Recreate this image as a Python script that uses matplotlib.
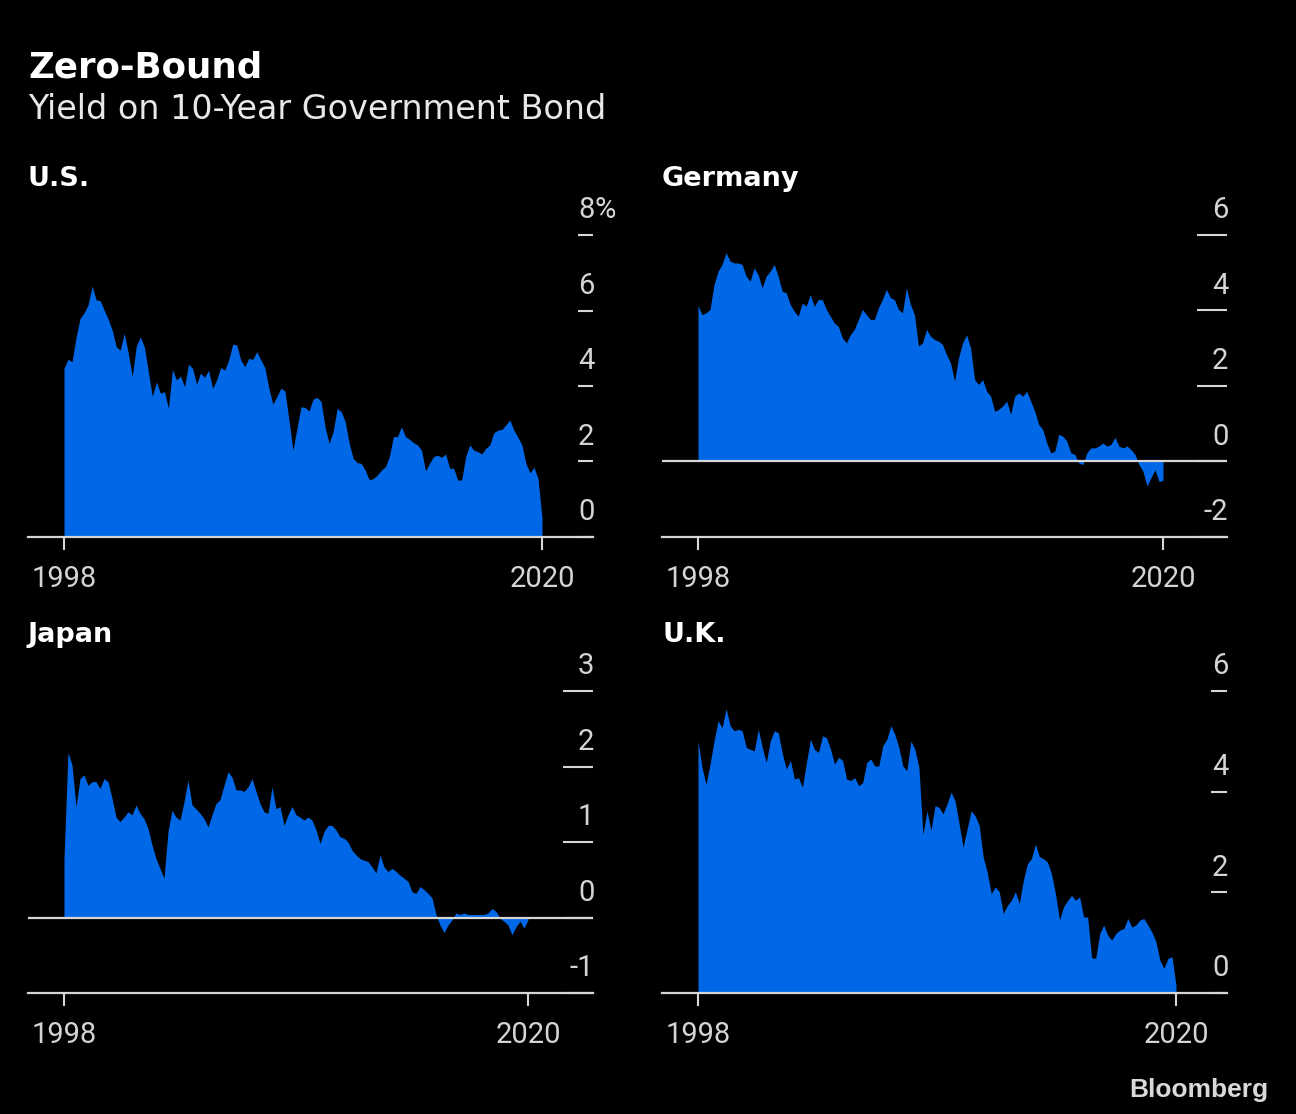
import numpy as np
import matplotlib
matplotlib.use('Agg')
import matplotlib.pyplot as plt

# yield on 10-year government bonds (%), evenly spaced 1998 -> 2020
us_yield = [4.47, 4.71, 4.64, 5.29, 5.79, 5.94, 6.15, 6.65, 6.28, 6.26,
            6.01, 5.77, 5.48, 5.04, 4.95, 5.40, 4.87, 4.25, 5.06, 5.30,
            5.04, 4.38, 3.72, 4.11, 3.81, 3.85, 3.41, 4.44, 4.16, 4.26,
            3.98, 4.58, 4.47, 4.05, 4.34, 4.23, 4.42, 3.94, 4.16, 4.49,
            4.42, 4.69, 5.11, 5.09, 4.69, 4.51, 4.73, 4.71, 4.91, 4.69,
            4.49, 3.94, 3.52, 3.72, 3.94, 3.87, 3.10, 2.30, 2.88, 3.45,
            3.43, 3.34, 3.65, 3.70, 3.59, 2.91, 2.48, 2.79, 3.41, 3.32,
            3.06, 2.48, 2.08, 1.97, 1.95, 1.77, 1.51, 1.55, 1.64, 1.77,
            1.86, 2.13, 2.66, 2.66, 2.92, 2.66, 2.59, 2.50, 2.44, 2.30,
            1.75, 1.95, 2.13, 2.17, 2.11, 2.20, 1.82, 1.82, 1.51, 1.51,
            2.13, 2.44, 2.30, 2.26, 2.20, 2.35, 2.44, 2.76, 2.83, 2.85,
            2.97, 3.10, 2.83, 2.64, 2.44, 1.95, 1.70, 1.85, 1.55, 0.50]

germany_yield = [4.13, 3.89, 3.94, 4.03, 4.69, 5.04, 5.22, 5.53, 5.31, 5.26,
                 5.26, 5.22, 4.91, 4.78, 5.13, 4.95, 4.60, 4.91, 5.04, 5.22,
                 4.91, 4.51, 4.47, 4.16, 3.98, 3.85, 4.20, 4.11, 4.42, 4.11,
                 4.29, 4.29, 4.03, 3.85, 3.67, 3.58, 3.28, 3.14, 3.36, 3.50,
                 3.76, 4.03, 3.89, 3.76, 3.76, 4.07, 4.29, 4.56, 4.34, 4.29,
                 4.03, 3.94, 4.60, 4.16, 3.89, 3.06, 3.14, 3.50, 3.32, 3.23,
                 3.19, 3.10, 2.83, 2.61, 2.13, 2.75, 3.14, 3.36, 3.01, 2.17,
                 2.04, 2.17, 1.86, 1.73, 1.33, 1.38, 1.47, 1.60, 1.25, 1.73,
                 1.82, 1.73, 1.86, 1.60, 1.33, 0.98, 0.85, 0.49, 0.23, 0.27,
                 0.72, 0.67, 0.54, 0.23, 0.19, -0.04, -0.08, 0.23, 0.36, 0.36,
                 0.41, 0.49, 0.41, 0.45, 0.64, 0.41, 0.36, 0.41, 0.32, 0.19,
                 -0.08, -0.26, -0.65, -0.43, -0.22, -0.53, -0.50]

japan_yield = [0.78, 2.19, 2.02, 1.47, 1.84, 1.89, 1.75, 1.80, 1.80, 1.71,
               1.84, 1.80, 1.58, 1.33, 1.27, 1.33, 1.40, 1.36, 1.49, 1.38,
               1.31, 1.18, 0.96, 0.78, 0.65, 0.52, 1.14, 1.42, 1.33, 1.29,
               1.53, 1.82, 1.49, 1.44, 1.38, 1.31, 1.20, 1.36, 1.51, 1.56,
               1.75, 1.93, 1.86, 1.69, 1.69, 1.67, 1.73, 1.84, 1.67, 1.51,
               1.40, 1.38, 1.73, 1.44, 1.47, 1.22, 1.36, 1.47, 1.36, 1.33,
               1.29, 1.33, 1.29, 1.16, 0.98, 1.14, 1.22, 1.22, 1.16, 1.07,
               1.05, 1.00, 0.89, 0.83, 0.78, 0.76, 0.74, 0.67, 0.59, 0.83,
               0.67, 0.61, 0.65, 0.61, 0.56, 0.52, 0.48, 0.34, 0.32, 0.41,
               0.37, 0.32, 0.26, 0.04, -0.10, -0.20, -0.10, -0.03, 0.06, 0.04,
               0.06, 0.04, 0.04, 0.04, 0.04, 0.04, 0.06, 0.12, 0.08, -0.01,
               -0.05, -0.10, -0.23, -0.12, -0.05, -0.14, -0.03]

uk_yield = [5.01, 4.48, 4.15, 4.55, 5.01, 5.41, 5.27, 5.65, 5.31, 5.21,
            5.24, 5.21, 4.88, 4.84, 4.81, 5.24, 4.88, 4.58, 5.01, 5.21,
            5.17, 4.75, 4.45, 4.62, 4.25, 4.28, 4.09, 4.58, 5.04, 4.84,
            4.78, 5.11, 5.07, 4.84, 4.55, 4.68, 4.62, 4.25, 4.22, 4.28,
            4.12, 4.18, 4.58, 4.65, 4.51, 4.51, 4.91, 5.04, 5.31, 5.14,
            4.88, 4.51, 4.42, 5.01, 4.84, 4.48, 3.15, 3.62, 3.23, 3.72,
            3.69, 3.56, 3.76, 3.99, 3.82, 3.36, 2.90, 3.26, 3.62, 3.52,
            3.33, 2.70, 2.40, 1.97, 2.11, 2.01, 1.58, 1.74, 1.84, 2.01,
            1.78, 2.24, 2.57, 2.67, 2.96, 2.71, 2.67, 2.60, 2.37, 1.97,
            1.45, 1.71, 1.84, 1.94, 1.84, 1.91, 1.51, 1.51, 0.70, 0.69,
            1.18, 1.35, 1.15, 1.05, 1.18, 1.25, 1.28, 1.48, 1.31, 1.35,
            1.45, 1.48, 1.35, 1.21, 1.02, 0.65, 0.49, 0.69, 0.72, 0.15]

start_year = 1998
end_year = 2020

BLUE = '#0068e6'
LINE = '#d6d6d6'
LABEL = '#d4d4d4'
NUM_FONT = ['Roboto', 'DejaVu Sans']
HEAD_FONT = ['DejaVu Sans']
NUM_SIZE = 21

W, H = 1296, 1114


def panelPlot(fig, rect, name, values, yTicks, xlim, tickLen, unit=''):
    ax = fig.add_axes(rect)
    ax.set_facecolor('black')
    years = np.linspace(start_year, end_year, len(values))
    ax.fill_between(years, 0, values, color=BLUE, lw=0, zorder=1)
    ax.set_xlim(*xlim)
    ax.set_ylim(yTicks[0], yTicks[-1])
    if yTicks[0] < 0:
        ax.axhline(0, color=LINE, lw=1.6, zorder=3)

    for s in ['top', 'left', 'right']:
        ax.spines[s].set_visible(False)
    ax.spines['bottom'].set_color(LINE)
    ax.spines['bottom'].set_linewidth(1.6)
    ax.spines['bottom'].set_zorder(3)

    ax.set_xticks([start_year, end_year])
    ax.set_yticks(yTicks)
    ax.yaxis.tick_right()
    ax.tick_params(axis='x', direction='out', length=9, width=1.5, color=LINE, labelbottom=False)
    ax.tick_params(axis='y', direction='in', length=tickLen, width=1.5, color=LINE, labelright=False)

    for yr in [start_year, end_year]:
        ax.annotate(str(yr), xy=(yr, 0), xycoords=('data', 'axes fraction'), xytext=(0, -36),
                    textcoords='offset points', ha='center', va='baseline',
                    fontsize=NUM_SIZE, color=LABEL, family=NUM_FONT)
    for val in yTicks:
        ax.annotate(f'{val}', xy=(1, val), xycoords=('axes fraction', 'data'), xytext=(1, 12),
                    textcoords='offset points', ha='right', va='baseline',
                    fontsize=NUM_SIZE, color=LABEL, family=NUM_FONT)
    if unit:
        ax.annotate(unit, xy=(1, yTicks[-1]), xycoords=('axes fraction', 'data'), xytext=(1, 12),
                    textcoords='offset points', ha='left', va='baseline',
                    fontsize=NUM_SIZE, color=LABEL, family=NUM_FONT)

    ax.annotate(name, xy=(0, 1), xycoords='axes fraction', xytext=(0, 35.3),
                textcoords='offset points', ha='left', va='baseline',
                fontsize=19.5, fontweight='bold', color='white', family=HEAD_FONT)
    return ax


def main():
    fig = plt.figure(figsize=(W / 100, H / 100), dpi=100, facecolor='black')

    fig.text(28 / W, 1 - 77 / H, 'Zero-Bound', fontsize=25.7, fontweight='bold',
             color='white', va='baseline', family=HEAD_FONT)
    fig.text(28 / W, 1 - 119 / H, 'Yield on 10-Year Government Bond', fontsize=24,
             color='#e8e8e8', va='baseline', family=HEAD_FONT)

    top_row = 1 - 537 / H
    bottom_row = 1 - 993 / H
    width = 565 / W
    height = 302 / H

    panelPlot(fig, [28 / W, top_row, width, height], 'U.S.', us_yield,
              [0, 2, 4, 6, 8], (1996.343, 2022.347), 10.8, unit='%')
    panelPlot(fig, [662 / W, top_row, width, height], 'Germany', germany_yield,
              [-2, 0, 2, 4, 6], (1996.297, 2023.028), 21.6)
    panelPlot(fig, [28 / W, bottom_row, width, height], 'Japan', japan_yield,
              [-1, 0, 1, 2, 3], (1996.293, 2023.082), 21.6)
    panelPlot(fig, [662 / W, bottom_row, width, height], 'U.K.', uk_yield,
              [0, 2, 4, 6], (1996.343, 2022.347), 11.5)

    fig.text(1268 / W, 1 - 1097 / H, 'Bloomberg', ha='right', va='baseline', fontsize=19,
             fontweight='bold', color='#d9d9d9', family=['Liberation Sans', 'DejaVu Sans'])

    fig.savefig('out.png', dpi=100, facecolor='black')
    plt.close(fig)


if __name__ == '__main__':
    main()
